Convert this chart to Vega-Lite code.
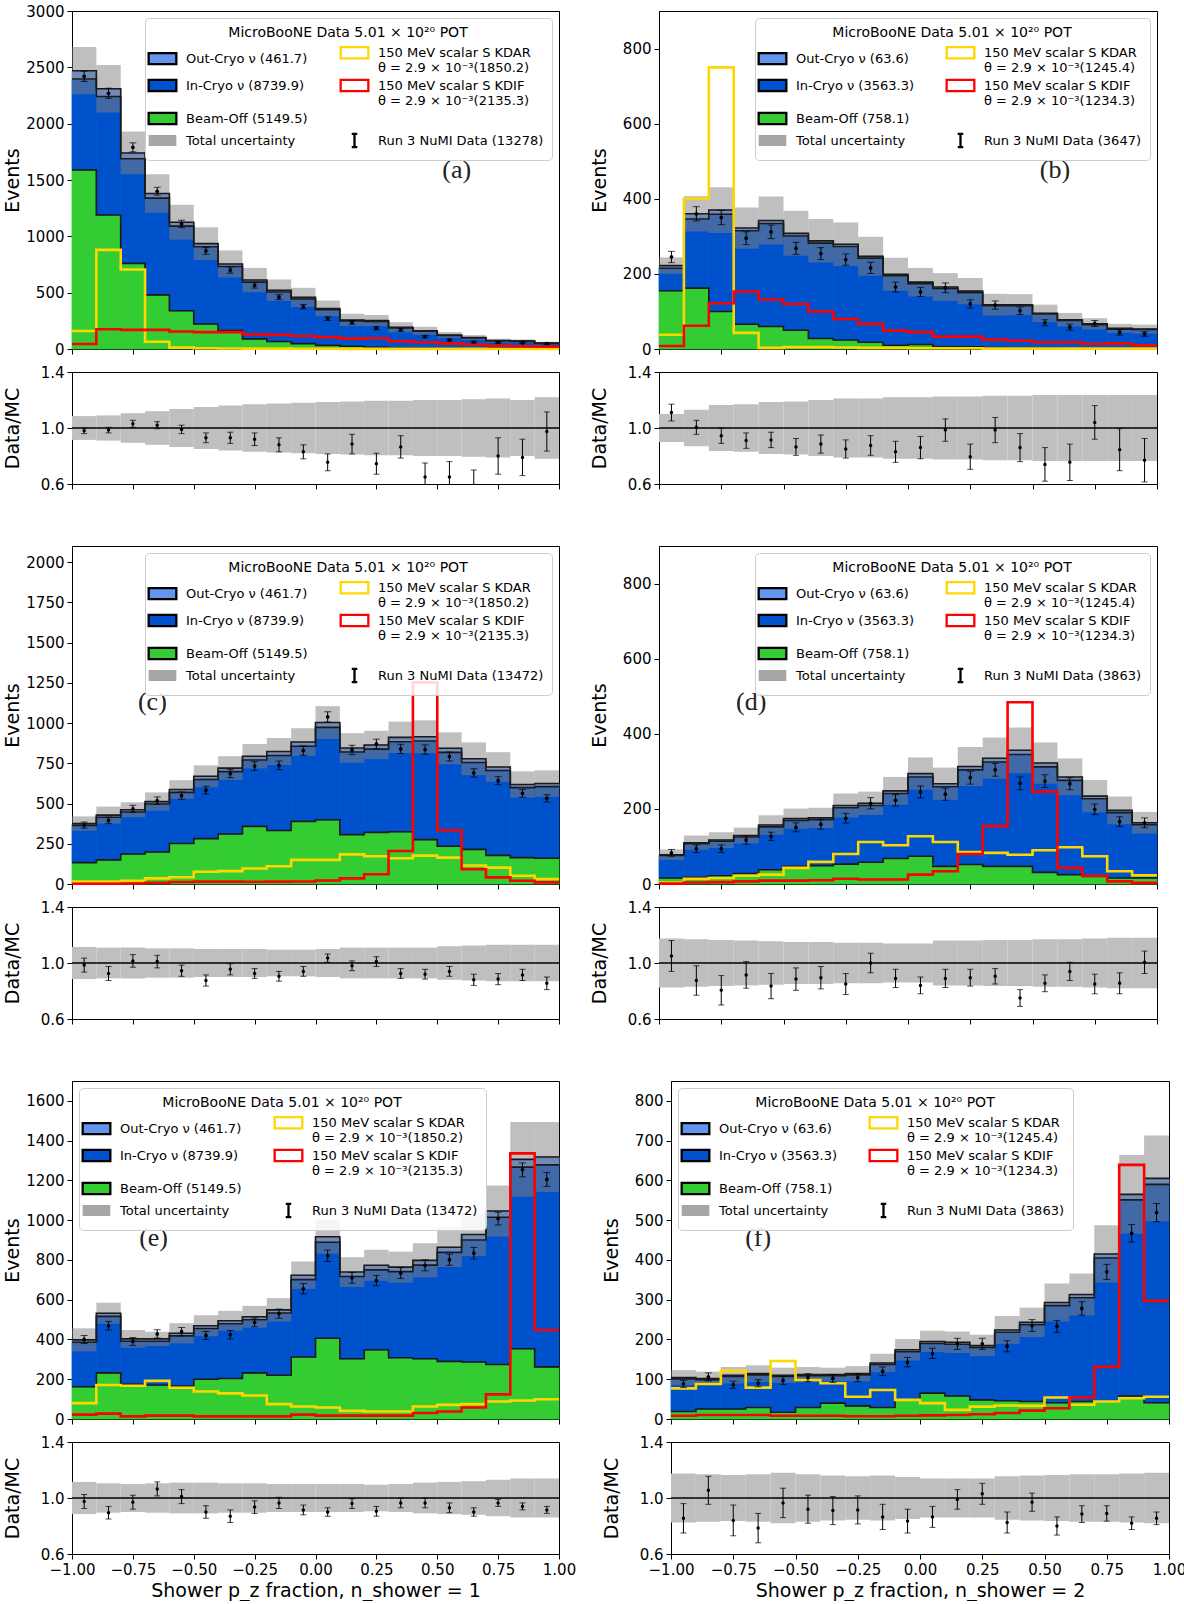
{
"$schema": "https://vega.github.io/schema/vega-lite/v6.json",
"background": "white",
"padding": {"left": 2, "top": 3, "right": 2, "bottom": 0},
"config": {
 "font": "DejaVu Sans",
 "view": {"stroke": "#000", "strokeWidth": 1},
 "axis": {"grid": false, "labelOverlap": false, "labelFlush": false, "domainColor": "#000", "tickColor": "#000", "labelColor": "#000", "titleColor": "#000", "labelFontSize": 15, "titleFontSize": 19, "titleFontWeight": "normal", "tickSize": 5, "labelPadding": 3, "labelFont": "DejaVu Sans", "titleFont": "DejaVu Sans"},
 "axisY": {"minExtent": 46, "maxExtent": 46, "titlePadding": 4, "labelOverlap": false},
 "axisX": {"titlePadding": 4},
 "legend": {"columns": 2, "columnPadding": 28, "rowPadding": 0, "symbolSize": 250, "symbolStrokeWidth": 2.3, "symbolOpacity": 1, "symbolFillColor": "#ffffff", "symbolStrokeColor": "#000000", "labelFontSize": 13, "labelOffset": 14, "labelLimit": 400, "titleFontSize": 14, "titleFontWeight": "normal", "titleAnchor": "middle", "titlePadding": 3, "titleLimit": 420, "fillColor": "rgba(255,255,255,0.85)", "strokeColor": "#cccccc", "cornerRadius": 4, "padding": 8, "offset": 7, "labelColor": "#000", "titleColor": "#000", "labelFont": "DejaVu Sans", "titleFont": "DejaVu Sans"}
},
"datasets": {
"a": [
{"x0":-1,"x1":-0.9,"xc":-0.95,"beamoff":1590,"incryo":806,"outcryo":74,"unclo":2260,"unchi":2680,"kdar":160,"kdif":45,"data":2420,"err":45,"ratio":0.98,"rerr":0.02,"bandlo":0.915,"bandhi":1.085},
{"x0":-0.9,"x1":-0.8,"xc":-0.85,"beamoff":1190,"incryo":1051,"outcryo":69,"unclo":2100,"unchi":2520,"kdar":880,"kdif":175,"data":2270,"err":45,"ratio":0.985,"rerr":0.02,"bandlo":0.91,"bandhi":1.09},
{"x0":-0.8,"x1":-0.7,"xc":-0.75,"beamoff":760,"incryo":928,"outcryo":52,"unclo":1550,"unchi":1930,"kdar":705,"kdif":170,"data":1790,"err":40,"ratio":1.03,"rerr":0.025,"bandlo":0.895,"bandhi":1.105},
{"x0":-0.7,"x1":-0.6,"xc":-0.65,"beamoff":480,"incryo":859,"outcryo":41,"unclo":1210,"unchi":1550,"kdar":65,"kdif":170,"data":1400,"err":35,"ratio":1.02,"rerr":0.025,"bandlo":0.88,"bandhi":1.12},
{"x0":-0.6,"x1":-0.5,"xc":-0.55,"beamoff":340,"incryo":751,"outcryo":34,"unclo":970,"unchi":1280,"kdar":12,"kdif":155,"data":1110,"err":33,"ratio":0.99,"rerr":0.03,"bandlo":0.865,"bandhi":1.135},
{"x0":-0.5,"x1":-0.4,"xc":-0.45,"beamoff":222,"incryo":685,"outcryo":28,"unclo":790,"unchi":1080,"kdar":6,"kdif":150,"data":870,"err":30,"ratio":0.93,"rerr":0.035,"bandlo":0.85,"bandhi":1.15},
{"x0":-0.4,"x1":-0.3,"xc":-0.35,"beamoff":163,"incryo":569,"outcryo":23,"unclo":635,"unchi":875,"kdar":4,"kdif":150,"data":700,"err":27,"ratio":0.93,"rerr":0.04,"bandlo":0.84,"bandhi":1.16},
{"x0":-0.3,"x1":-0.2,"xc":-0.25,"beamoff":90,"incryo":504,"outcryo":18,"unclo":504,"unchi":720,"kdar":3,"kdif":130,"data":565,"err":24,"ratio":0.92,"rerr":0.045,"bandlo":0.83,"bandhi":1.17},
{"x0":-0.2,"x1":-0.1,"xc":-0.15,"beamoff":66,"incryo":440,"outcryo":16,"unclo":427,"unchi":617,"kdar":3,"kdif":125,"data":460,"err":22,"ratio":0.88,"rerr":0.05,"bandlo":0.825,"bandhi":1.175},
{"x0":-0.1,"x1":0,"xc":-0.05,"beamoff":48,"incryo":396,"outcryo":14,"unclo":373,"unchi":543,"kdar":2,"kdif":115,"data":375,"err":20,"ratio":0.83,"rerr":0.05,"bandlo":0.82,"bandhi":1.18},
{"x0":0,"x1":0.1,"xc":0.05,"beamoff":32,"incryo":317,"outcryo":11,"unclo":290,"unchi":430,"kdar":2,"kdif":105,"data":270,"err":17,"ratio":0.755,"rerr":0.06,"bandlo":0.815,"bandhi":1.185},
{"x0":0.1,"x1":0.2,"xc":0.15,"beamoff":25,"incryo":225,"outcryo":8,"unclo":203,"unchi":313,"kdar":1,"kdif":92,"data":235,"err":16,"ratio":0.885,"rerr":0.07,"bandlo":0.81,"bandhi":1.19},
{"x0":0.2,"x1":0.3,"xc":0.25,"beamoff":15,"incryo":229,"outcryo":8,"unclo":202,"unchi":302,"kdar":1,"kdif":95,"data":185,"err":14,"ratio":0.745,"rerr":0.075,"bandlo":0.805,"bandhi":1.195},
{"x0":0.3,"x1":0.4,"xc":0.35,"beamoff":11,"incryo":176,"outcryo":6,"unclo":148,"unchi":238,"kdar":1,"kdif":70,"data":170,"err":13,"ratio":0.865,"rerr":0.08,"bandlo":0.805,"bandhi":1.195},
{"x0":0.4,"x1":0.5,"xc":0.45,"beamoff":9,"incryo":148,"outcryo":5,"unclo":127,"unchi":197,"kdar":1,"kdif":60,"data":110,"err":11,"ratio":0.65,"rerr":0.1,"bandlo":0.8,"bandhi":1.2},
{"x0":0.5,"x1":0.6,"xc":0.55,"beamoff":7,"incryo":113,"outcryo":4,"unclo":97,"unchi":151,"kdar":1,"kdif":50,"data":80,"err":9,"ratio":0.65,"rerr":0.11,"bandlo":0.8,"bandhi":1.2},
{"x0":0.6,"x1":0.7,"xc":0.65,"beamoff":5,"incryo":94,"outcryo":3,"unclo":80,"unchi":124,"kdar":1,"kdif":40,"data":62,"err":8,"ratio":0.59,"rerr":0.11,"bandlo":0.795,"bandhi":1.205},
{"x0":0.7,"x1":0.8,"xc":0.75,"beamoff":4,"incryo":69,"outcryo":2,"unclo":59,"unchi":91,"kdar":0,"kdif":30,"data":58,"err":8,"ratio":0.8,"rerr":0.13,"bandlo":0.79,"bandhi":1.21},
{"x0":0.8,"x1":0.9,"xc":0.85,"beamoff":3,"incryo":65,"outcryo":2,"unclo":55,"unchi":85,"kdar":0,"kdif":25,"data":55,"err":7,"ratio":0.79,"rerr":0.13,"bandlo":0.8,"bandhi":1.2},
{"x0":0.9,"x1":1,"xc":0.95,"beamoff":2,"incryo":48,"outcryo":2,"unclo":40,"unchi":64,"kdar":0,"kdif":20,"data":47,"err":7,"ratio":0.975,"rerr":0.14,"bandlo":0.78,"bandhi":1.22}
],
"b": [
{"x0":-1,"x1":-0.9,"xc":-0.95,"beamoff":155,"incryo":60,"outcryo":7,"unclo":200,"unchi":244,"kdar":38,"kdif":8,"data":245,"err":15,"ratio":1.11,"rerr":0.06,"bandlo":0.9,"bandhi":1.1},
{"x0":-0.9,"x1":-0.8,"xc":-0.85,"beamoff":162,"incryo":184,"outcryo":14,"unclo":313,"unchi":407,"kdar":400,"kdif":62,"data":360,"err":19,"ratio":1.005,"rerr":0.05,"bandlo":0.87,"bandhi":1.13},
{"x0":-0.8,"x1":-0.7,"xc":-0.75,"beamoff":100,"incryo":259,"outcryo":11,"unclo":309,"unchi":431,"kdar":750,"kdif":122,"data":350,"err":19,"ratio":0.945,"rerr":0.055,"bandlo":0.835,"bandhi":1.165},
{"x0":-0.7,"x1":-0.6,"xc":-0.65,"beamoff":66,"incryo":249,"outcryo":7,"unclo":267,"unchi":377,"kdar":43,"kdif":153,"data":295,"err":17,"ratio":0.91,"rerr":0.055,"bandlo":0.83,"bandhi":1.17},
{"x0":-0.6,"x1":-0.5,"xc":-0.55,"beamoff":60,"incryo":274,"outcryo":8,"unclo":278,"unchi":406,"kdar":3,"kdif":132,"data":312,"err":18,"ratio":0.915,"rerr":0.055,"bandlo":0.815,"bandhi":1.185},
{"x0":-0.5,"x1":-0.4,"xc":-0.45,"beamoff":50,"incryo":251,"outcryo":7,"unclo":248,"unchi":368,"kdar":5,"kdif":120,"data":268,"err":16,"ratio":0.865,"rerr":0.06,"bandlo":0.81,"bandhi":1.19},
{"x0":-0.4,"x1":-0.3,"xc":-0.35,"beamoff":28,"incryo":254,"outcryo":6,"unclo":230,"unchi":346,"kdar":5,"kdif":100,"data":254,"err":16,"ratio":0.885,"rerr":0.065,"bandlo":0.8,"bandhi":1.2},
{"x0":-0.3,"x1":-0.2,"xc":-0.25,"beamoff":24,"incryo":249,"outcryo":6,"unclo":221,"unchi":337,"kdar":4,"kdif":80,"data":238,"err":15,"ratio":0.85,"rerr":0.065,"bandlo":0.79,"bandhi":1.21},
{"x0":-0.2,"x1":-0.1,"xc":-0.15,"beamoff":18,"incryo":224,"outcryo":5,"unclo":195,"unchi":299,"kdar":3,"kdif":67,"data":216,"err":15,"ratio":0.875,"rerr":0.07,"bandlo":0.79,"bandhi":1.21},
{"x0":-0.1,"x1":0,"xc":-0.05,"beamoff":10,"incryo":185,"outcryo":4,"unclo":155,"unchi":243,"kdar":3,"kdif":49,"data":165,"err":13,"ratio":0.83,"rerr":0.075,"bandlo":0.78,"bandhi":1.22},
{"x0":0,"x1":0.1,"xc":0.05,"beamoff":12,"incryo":162,"outcryo":4,"unclo":140,"unchi":216,"kdar":2,"kdif":45,"data":152,"err":12,"ratio":0.86,"rerr":0.08,"bandlo":0.78,"bandhi":1.22},
{"x0":0.1,"x1":0.2,"xc":0.15,"beamoff":6,"incryo":155,"outcryo":4,"unclo":128,"unchi":202,"kdar":2,"kdif":33,"data":163,"err":13,"ratio":0.985,"rerr":0.08,"bandlo":0.775,"bandhi":1.225},
{"x0":0.2,"x1":0.3,"xc":0.25,"beamoff":6,"incryo":144,"outcryo":4,"unclo":119,"unchi":189,"kdar":2,"kdif":33,"data":120,"err":11,"ratio":0.795,"rerr":0.09,"bandlo":0.775,"bandhi":1.225},
{"x0":0.3,"x1":0.4,"xc":0.35,"beamoff":4,"incryo":111,"outcryo":3,"unclo":89,"unchi":147,"kdar":1,"kdif":25,"data":117,"err":11,"ratio":0.985,"rerr":0.09,"bandlo":0.77,"bandhi":1.23},
{"x0":0.4,"x1":0.5,"xc":0.45,"beamoff":3,"incryo":112,"outcryo":3,"unclo":90,"unchi":146,"kdar":1,"kdif":22,"data":102,"err":10,"ratio":0.86,"rerr":0.1,"bandlo":0.77,"bandhi":1.23},
{"x0":0.5,"x1":0.6,"xc":0.55,"beamoff":3,"incryo":90,"outcryo":2,"unclo":72,"unchi":118,"kdar":1,"kdif":18,"data":70,"err":8,"ratio":0.74,"rerr":0.12,"bandlo":0.765,"bandhi":1.235},
{"x0":0.6,"x1":0.7,"xc":0.65,"beamoff":2,"incryo":74,"outcryo":2,"unclo":60,"unchi":96,"kdar":1,"kdif":18,"data":58,"err":8,"ratio":0.755,"rerr":0.13,"bandlo":0.765,"bandhi":1.235},
{"x0":0.7,"x1":0.8,"xc":0.75,"beamoff":2,"incryo":63,"outcryo":2,"unclo":52,"unchi":82,"kdar":1,"kdif":14,"data":68,"err":8,"ratio":1.04,"rerr":0.12,"bandlo":0.765,"bandhi":1.235},
{"x0":0.8,"x1":0.9,"xc":0.85,"beamoff":2,"incryo":51,"outcryo":2,"unclo":43,"unchi":67,"kdar":1,"kdif":15,"data":44,"err":7,"ratio":0.845,"rerr":0.15,"bandlo":0.765,"bandhi":1.235},
{"x0":0.9,"x1":1,"xc":0.95,"beamoff":1,"incryo":51,"outcryo":1,"unclo":41,"unchi":65,"kdar":1,"kdif":10,"data":40,"err":6,"ratio":0.77,"rerr":0.155,"bandlo":0.765,"bandhi":1.235}
],
"c": [
{"x0":-1,"x1":-0.9,"xc":-0.95,"beamoff":133,"incryo":231,"outcryo":11,"unclo":330,"unchi":420,"kdar":16,"kdif":2,"data":366,"err":19,"ratio":0.985,"rerr":0.05,"bandlo":0.885,"bandhi":1.115},
{"x0":-0.9,"x1":-0.8,"xc":-0.85,"beamoff":150,"incryo":265,"outcryo":13,"unclo":375,"unchi":481,"kdar":16,"kdif":2,"data":395,"err":20,"ratio":0.925,"rerr":0.05,"bandlo":0.89,"bandhi":1.11},
{"x0":-0.8,"x1":-0.7,"xc":-0.75,"beamoff":186,"incryo":261,"outcryo":14,"unclo":414,"unchi":508,"kdar":20,"kdif":3,"data":467,"err":22,"ratio":1.015,"rerr":0.045,"bandlo":0.89,"bandhi":1.11},
{"x0":-0.7,"x1":-0.6,"xc":-0.65,"beamoff":199,"incryo":298,"outcryo":15,"unclo":455,"unchi":569,"kdar":35,"kdif":8,"data":518,"err":23,"ratio":1.01,"rerr":0.045,"bandlo":0.895,"bandhi":1.105},
{"x0":-0.6,"x1":-0.5,"xc":-0.55,"beamoff":252,"incryo":317,"outcryo":18,"unclo":529,"unchi":645,"kdar":42,"kdif":12,"data":549,"err":23,"ratio":0.945,"rerr":0.04,"bandlo":0.895,"bandhi":1.105},
{"x0":-0.5,"x1":-0.4,"xc":-0.45,"beamoff":282,"incryo":367,"outcryo":20,"unclo":601,"unchi":737,"kdar":76,"kdif":15,"data":583,"err":24,"ratio":0.875,"rerr":0.04,"bandlo":0.9,"bandhi":1.1},
{"x0":-0.4,"x1":-0.3,"xc":-0.35,"beamoff":311,"incryo":387,"outcryo":22,"unclo":646,"unchi":794,"kdar":80,"kdif":15,"data":686,"err":26,"ratio":0.955,"rerr":0.04,"bandlo":0.9,"bandhi":1.1},
{"x0":-0.3,"x1":-0.2,"xc":-0.25,"beamoff":358,"incryo":412,"outcryo":24,"unclo":718,"unchi":870,"kdar":96,"kdif":14,"data":733,"err":27,"ratio":0.925,"rerr":0.035,"bandlo":0.9,"bandhi":1.1},
{"x0":-0.2,"x1":-0.1,"xc":-0.15,"beamoff":332,"incryo":466,"outcryo":25,"unclo":739,"unchi":907,"kdar":110,"kdif":15,"data":737,"err":27,"ratio":0.905,"rerr":0.035,"bandlo":0.905,"bandhi":1.095},
{"x0":-0.1,"x1":0,"xc":-0.05,"beamoff":389,"incryo":467,"outcryo":26,"unclo":796,"unchi":968,"kdar":150,"kdif":16,"data":829,"err":29,"ratio":0.94,"rerr":0.035,"bandlo":0.905,"bandhi":1.095},
{"x0":0,"x1":0.1,"xc":0.05,"beamoff":399,"incryo":574,"outcryo":30,"unclo":901,"unchi":1105,"kdar":150,"kdif":22,"data":1038,"err":32,"ratio":1.035,"rerr":0.03,"bandlo":0.9,"bandhi":1.1},
{"x0":0.1,"x1":0.2,"xc":0.15,"beamoff":307,"incryo":513,"outcryo":25,"unclo":753,"unchi":937,"kdar":184,"kdif":35,"data":833,"err":29,"ratio":0.98,"rerr":0.035,"bandlo":0.89,"bandhi":1.11},
{"x0":0.2,"x1":0.3,"xc":0.25,"beamoff":321,"incryo":517,"outcryo":26,"unclo":776,"unchi":952,"kdar":172,"kdif":61,"data":870,"err":30,"ratio":1.01,"rerr":0.035,"bandlo":0.89,"bandhi":1.11},
{"x0":0.3,"x1":0.4,"xc":0.35,"beamoff":325,"incryo":559,"outcryo":27,"unclo":813,"unchi":1009,"kdar":160,"kdif":205,"data":839,"err":29,"ratio":0.925,"rerr":0.035,"bandlo":0.89,"bandhi":1.11},
{"x0":0.4,"x1":0.5,"xc":0.45,"beamoff":276,"incryo":612,"outcryo":27,"unclo":813,"unchi":1017,"kdar":176,"kdif":1253,"data":835,"err":29,"ratio":0.92,"rerr":0.035,"bandlo":0.89,"bandhi":1.11},
{"x0":0.5,"x1":0.6,"xc":0.55,"beamoff":235,"incryo":583,"outcryo":25,"unclo":744,"unchi":942,"kdar":164,"kdif":334,"data":792,"err":28,"ratio":0.94,"rerr":0.035,"bandlo":0.88,"bandhi":1.12},
{"x0":0.6,"x1":0.7,"xc":0.65,"beamoff":215,"incryo":540,"outcryo":23,"unclo":676,"unchi":880,"kdar":115,"kdif":92,"data":690,"err":26,"ratio":0.88,"rerr":0.04,"bandlo":0.875,"bandhi":1.125},
{"x0":0.7,"x1":0.8,"xc":0.75,"beamoff":178,"incryo":527,"outcryo":22,"unclo":635,"unchi":819,"kdar":102,"kdif":41,"data":642,"err":25,"ratio":0.885,"rerr":0.04,"bandlo":0.87,"bandhi":1.13},
{"x0":0.8,"x1":0.9,"xc":0.85,"beamoff":164,"incryo":435,"outcryo":19,"unclo":536,"unchi":700,"kdar":51,"kdif":20,"data":563,"err":24,"ratio":0.915,"rerr":0.04,"bandlo":0.87,"bandhi":1.13},
{"x0":0.9,"x1":1,"xc":0.95,"beamoff":160,"incryo":445,"outcryo":19,"unclo":542,"unchi":706,"kdar":31,"kdif":10,"data":532,"err":23,"ratio":0.855,"rerr":0.045,"bandlo":0.87,"bandhi":1.13}
],
"d": [
{"x0":-1,"x1":-0.9,"xc":-0.95,"beamoff":16,"incryo":60,"outcryo":2,"unclo":64,"unchi":92,"kdar":4,"kdif":1,"data":83,"err":9,"ratio":1.05,"rerr":0.11,"bandlo":0.825,"bandhi":1.175},
{"x0":-0.9,"x1":-0.8,"xc":-0.85,"beamoff":18,"incryo":89,"outcryo":3,"unclo":91,"unchi":129,"kdar":14,"kdif":4,"data":94,"err":10,"ratio":0.875,"rerr":0.105,"bandlo":0.83,"bandhi":1.17},
{"x0":-0.8,"x1":-0.7,"xc":-0.75,"beamoff":22,"incryo":92,"outcryo":3,"unclo":96,"unchi":138,"kdar":16,"kdif":5,"data":94,"err":10,"ratio":0.805,"rerr":0.105,"bandlo":0.835,"bandhi":1.165},
{"x0":-0.7,"x1":-0.6,"xc":-0.65,"beamoff":28,"incryo":97,"outcryo":4,"unclo":108,"unchi":150,"kdar":22,"kdif":7,"data":117,"err":11,"ratio":0.915,"rerr":0.095,"bandlo":0.84,"bandhi":1.16},
{"x0":-0.6,"x1":-0.5,"xc":-0.55,"beamoff":38,"incryo":114,"outcryo":5,"unclo":131,"unchi":183,"kdar":25,"kdif":9,"data":127,"err":11,"ratio":0.835,"rerr":0.09,"bandlo":0.845,"bandhi":1.155},
{"x0":-0.5,"x1":-0.4,"xc":-0.45,"beamoff":47,"incryo":122,"outcryo":5,"unclo":147,"unchi":201,"kdar":43,"kdif":9,"data":151,"err":12,"ratio":0.885,"rerr":0.08,"bandlo":0.85,"bandhi":1.15},
{"x0":-0.4,"x1":-0.3,"xc":-0.35,"beamoff":49,"incryo":122,"outcryo":5,"unclo":149,"unchi":203,"kdar":59,"kdif":10,"data":159,"err":13,"ratio":0.895,"rerr":0.08,"bandlo":0.85,"bandhi":1.15},
{"x0":-0.3,"x1":-0.2,"xc":-0.25,"beamoff":53,"incryo":150,"outcryo":6,"unclo":177,"unchi":241,"kdar":80,"kdif":14,"data":175,"err":13,"ratio":0.85,"rerr":0.075,"bandlo":0.855,"bandhi":1.145},
{"x0":-0.2,"x1":-0.1,"xc":-0.15,"beamoff":58,"incryo":151,"outcryo":6,"unclo":184,"unchi":246,"kdar":112,"kdif":12,"data":215,"err":15,"ratio":1.0,"rerr":0.07,"bandlo":0.855,"bandhi":1.145},
{"x0":-0.1,"x1":0,"xc":-0.05,"beamoff":68,"incryo":173,"outcryo":7,"unclo":211,"unchi":285,"kdar":103,"kdif":12,"data":223,"err":15,"ratio":0.89,"rerr":0.065,"bandlo":0.86,"bandhi":1.14},
{"x0":0,"x1":0.1,"xc":0.05,"beamoff":74,"incryo":211,"outcryo":9,"unclo":251,"unchi":337,"kdar":127,"kdif":25,"data":245,"err":16,"ratio":0.84,"rerr":0.06,"bandlo":0.86,"bandhi":1.14},
{"x0":0.1,"x1":0.2,"xc":0.15,"beamoff":47,"incryo":212,"outcryo":8,"unclo":224,"unchi":310,"kdar":112,"kdif":34,"data":239,"err":16,"ratio":0.89,"rerr":0.065,"bandlo":0.84,"bandhi":1.16},
{"x0":0.2,"x1":0.3,"xc":0.25,"beamoff":52,"incryo":252,"outcryo":9,"unclo":261,"unchi":365,"kdar":85,"kdif":80,"data":283,"err":17,"ratio":0.895,"rerr":0.06,"bandlo":0.84,"bandhi":1.16},
{"x0":0.3,"x1":0.4,"xc":0.35,"beamoff":47,"incryo":278,"outcryo":10,"unclo":280,"unchi":390,"kdar":83,"kdif":154,"data":304,"err":17,"ratio":0.905,"rerr":0.055,"bandlo":0.835,"bandhi":1.165},
{"x0":0.4,"x1":0.5,"xc":0.45,"beamoff":47,"incryo":298,"outcryo":11,"unclo":295,"unchi":417,"kdar":78,"kdif":484,"data":268,"err":17,"ratio":0.75,"rerr":0.06,"bandlo":0.835,"bandhi":1.165},
{"x0":0.5,"x1":0.6,"xc":0.55,"beamoff":31,"incryo":281,"outcryo":10,"unclo":267,"unchi":377,"kdar":90,"kdif":246,"data":274,"err":17,"ratio":0.855,"rerr":0.06,"bandlo":0.83,"bandhi":1.17},
{"x0":0.6,"x1":0.7,"xc":0.65,"beamoff":25,"incryo":251,"outcryo":9,"unclo":236,"unchi":334,"kdar":98,"kdif":43,"data":267,"err":16,"ratio":0.94,"rerr":0.065,"bandlo":0.83,"bandhi":1.17},
{"x0":0.7,"x1":0.8,"xc":0.75,"beamoff":20,"incryo":207,"outcryo":7,"unclo":191,"unchi":277,"kdar":74,"kdif":22,"data":199,"err":14,"ratio":0.85,"rerr":0.07,"bandlo":0.825,"bandhi":1.175},
{"x0":0.8,"x1":0.9,"xc":0.85,"beamoff":16,"incryo":174,"outcryo":6,"unclo":159,"unchi":233,"kdar":34,"kdif":7,"data":166,"err":13,"ratio":0.855,"rerr":0.075,"bandlo":0.82,"bandhi":1.18},
{"x0":0.9,"x1":1,"xc":0.95,"beamoff":16,"incryo":142,"outcryo":5,"unclo":134,"unchi":192,"kdar":23,"kdif":3,"data":163,"err":13,"ratio":1.005,"rerr":0.08,"bandlo":0.82,"bandhi":1.18}
],
"e": [
{"x0":-1,"x1":-0.9,"xc":-0.95,"beamoff":162,"incryo":224,"outcryo":12,"unclo":340,"unchi":456,"kdar":80,"kdif":22,"data":400,"err":20,"ratio":0.975,"rerr":0.05,"bandlo":0.885,"bandhi":1.115},
{"x0":-0.9,"x1":-0.8,"xc":-0.85,"beamoff":232,"incryo":284,"outcryo":16,"unclo":479,"unchi":585,"kdar":171,"kdif":27,"data":469,"err":22,"ratio":0.895,"rerr":0.045,"bandlo":0.895,"bandhi":1.105},
{"x0":-0.8,"x1":-0.7,"xc":-0.75,"beamoff":174,"incryo":217,"outcryo":12,"unclo":358,"unchi":448,"kdar":167,"kdif":13,"data":390,"err":20,"ratio":0.97,"rerr":0.05,"bandlo":0.9,"bandhi":1.1},
{"x0":-0.7,"x1":-0.6,"xc":-0.65,"beamoff":171,"incryo":220,"outcryo":12,"unclo":367,"unchi":439,"kdar":192,"kdif":17,"data":428,"err":21,"ratio":1.065,"rerr":0.05,"bandlo":0.895,"bandhi":1.105},
{"x0":-0.6,"x1":-0.5,"xc":-0.55,"beamoff":166,"incryo":252,"outcryo":13,"unclo":380,"unchi":482,"kdar":157,"kdif":17,"data":439,"err":21,"ratio":1.01,"rerr":0.05,"bandlo":0.89,"bandhi":1.11},
{"x0":-0.5,"x1":-0.4,"xc":-0.45,"beamoff":200,"incryo":255,"outcryo":14,"unclo":416,"unchi":522,"kdar":138,"kdif":13,"data":420,"err":20,"ratio":0.9,"rerr":0.045,"bandlo":0.89,"bandhi":1.11},
{"x0":-0.4,"x1":-0.3,"xc":-0.35,"beamoff":204,"incryo":275,"outcryo":15,"unclo":444,"unchi":544,"kdar":129,"kdif":13,"data":424,"err":21,"ratio":0.87,"rerr":0.045,"bandlo":0.895,"bandhi":1.105},
{"x0":-0.3,"x1":-0.2,"xc":-0.25,"beamoff":232,"incryo":267,"outcryo":15,"unclo":459,"unchi":569,"kdar":118,"kdif":13,"data":486,"err":22,"ratio":0.935,"rerr":0.045,"bandlo":0.895,"bandhi":1.105},
{"x0":-0.2,"x1":-0.1,"xc":-0.15,"beamoff":220,"incryo":313,"outcryo":16,"unclo":490,"unchi":608,"kdar":75,"kdif":13,"data":530,"err":23,"ratio":0.965,"rerr":0.04,"bandlo":0.9,"bandhi":1.1},
{"x0":-0.1,"x1":0,"xc":-0.05,"beamoff":312,"incryo":389,"outcryo":22,"unclo":654,"unchi":792,"kdar":63,"kdif":22,"data":655,"err":26,"ratio":0.915,"rerr":0.035,"bandlo":0.9,"bandhi":1.1},
{"x0":0,"x1":0.1,"xc":0.05,"beamoff":406,"incryo":483,"outcryo":28,"unclo":831,"unchi":1003,"kdar":58,"kdif":17,"data":821,"err":29,"ratio":0.9,"rerr":0.03,"bandlo":0.9,"bandhi":1.1},
{"x0":0.1,"x1":0.2,"xc":0.15,"beamoff":303,"incryo":414,"outcryo":22,"unclo":664,"unchi":814,"kdar":41,"kdif":17,"data":710,"err":27,"ratio":0.96,"rerr":0.035,"bandlo":0.9,"bandhi":1.1},
{"x0":0.2,"x1":0.3,"xc":0.25,"beamoff":348,"incryo":402,"outcryo":23,"unclo":695,"unchi":851,"kdar":38,"kdif":17,"data":696,"err":26,"ratio":0.905,"rerr":0.035,"bandlo":0.905,"bandhi":1.095},
{"x0":0.3,"x1":0.4,"xc":0.35,"beamoff":308,"incryo":433,"outcryo":23,"unclo":686,"unchi":842,"kdar":38,"kdif":17,"data":734,"err":27,"ratio":0.965,"rerr":0.035,"bandlo":0.9,"bandhi":1.1},
{"x0":0.4,"x1":0.5,"xc":0.45,"beamoff":303,"incryo":471,"outcryo":24,"unclo":712,"unchi":884,"kdar":63,"kdif":30,"data":773,"err":28,"ratio":0.965,"rerr":0.035,"bandlo":0.89,"bandhi":1.11},
{"x0":0.5,"x1":0.6,"xc":0.55,"beamoff":290,"incryo":548,"outcryo":26,"unclo":765,"unchi":963,"kdar":71,"kdif":38,"data":801,"err":28,"ratio":0.93,"rerr":0.035,"bandlo":0.885,"bandhi":1.115},
{"x0":0.6,"x1":0.7,"xc":0.65,"beamoff":287,"incryo":613,"outcryo":28,"unclo":820,"unchi":1036,"kdar":75,"kdif":58,"data":834,"err":29,"ratio":0.9,"rerr":0.03,"bandlo":0.88,"bandhi":1.12},
{"x0":0.7,"x1":0.8,"xc":0.75,"beamoff":274,"incryo":741,"outcryo":31,"unclo":918,"unchi":1174,"kdar":88,"kdif":124,"data":1008,"err":32,"ratio":0.965,"rerr":0.025,"bandlo":0.87,"bandhi":1.13},
{"x0":0.8,"x1":0.9,"xc":0.85,"beamoff":353,"incryo":914,"outcryo":39,"unclo":1118,"unchi":1494,"kdar":93,"kdif":1336,"data":1253,"err":35,"ratio":0.94,"rerr":0.025,"bandlo":0.86,"bandhi":1.14},
{"x0":0.9,"x1":1,"xc":0.95,"beamoff":262,"incryo":1016,"outcryo":40,"unclo":1142,"unchi":1494,"kdar":99,"kdif":448,"data":1205,"err":35,"ratio":0.915,"rerr":0.025,"bandlo":0.86,"bandhi":1.14}
],
"f": [
{"x0":-1,"x1":-0.9,"xc":-0.95,"beamoff":19,"incryo":82,"outcryo":3,"unclo":85,"unchi":123,"kdar":77,"kdif":8,"data":88,"err":9,"ratio":0.855,"rerr":0.105,"bandlo":0.825,"bandhi":1.175},
{"x0":-0.9,"x1":-0.8,"xc":-0.85,"beamoff":25,"incryo":74,"outcryo":3,"unclo":85,"unchi":119,"kdar":88,"kdif":10,"data":106,"err":10,"ratio":1.055,"rerr":0.1,"bandlo":0.83,"bandhi":1.17},
{"x0":-0.8,"x1":-0.7,"xc":-0.75,"beamoff":25,"incryo":82,"outcryo":3,"unclo":89,"unchi":131,"kdar":121,"kdif":10,"data":86,"err":9,"ratio":0.84,"rerr":0.11,"bandlo":0.835,"bandhi":1.165},
{"x0":-0.7,"x1":-0.6,"xc":-0.65,"beamoff":29,"incryo":82,"outcryo":3,"unclo":93,"unchi":135,"kdar":79,"kdif":10,"data":90,"err":9,"ratio":0.785,"rerr":0.105,"bandlo":0.83,"bandhi":1.17},
{"x0":-0.6,"x1":-0.5,"xc":-0.55,"beamoff":17,"incryo":90,"outcryo":3,"unclo":91,"unchi":129,"kdar":146,"kdif":8,"data":97,"err":10,"ratio":0.965,"rerr":0.105,"bandlo":0.82,"bandhi":1.18},
{"x0":-0.5,"x1":-0.4,"xc":-0.45,"beamoff":29,"incryo":80,"outcryo":3,"unclo":93,"unchi":131,"kdar":98,"kdif":8,"data":104,"err":10,"ratio":0.92,"rerr":0.1,"bandlo":0.83,"bandhi":1.17},
{"x0":-0.4,"x1":-0.3,"xc":-0.35,"beamoff":40,"incryo":69,"outcryo":3,"unclo":95,"unchi":129,"kdar":90,"kdif":8,"data":102,"err":10,"ratio":0.91,"rerr":0.1,"bandlo":0.84,"bandhi":1.16},
{"x0":-0.3,"x1":-0.2,"xc":-0.25,"beamoff":33,"incryo":78,"outcryo":3,"unclo":95,"unchi":133,"kdar":56,"kdif":7,"data":104,"err":10,"ratio":0.915,"rerr":0.1,"bandlo":0.845,"bandhi":1.155},
{"x0":-0.2,"x1":-0.1,"xc":-0.15,"beamoff":29,"incryo":108,"outcryo":4,"unclo":118,"unchi":164,"kdar":73,"kdif":7,"data":120,"err":11,"ratio":0.865,"rerr":0.09,"bandlo":0.84,"bandhi":1.16},
{"x0":-0.1,"x1":0,"xc":-0.05,"beamoff":48,"incryo":121,"outcryo":5,"unclo":147,"unchi":201,"kdar":48,"kdif":8,"data":143,"err":12,"ratio":0.835,"rerr":0.085,"bandlo":0.85,"bandhi":1.15},
{"x0":0,"x1":0.1,"xc":0.05,"beamoff":65,"incryo":125,"outcryo":5,"unclo":168,"unchi":222,"kdar":40,"kdif":9,"data":165,"err":13,"ratio":0.865,"rerr":0.075,"bandlo":0.86,"bandhi":1.14},
{"x0":0.1,"x1":0.2,"xc":0.15,"beamoff":58,"incryo":130,"outcryo":5,"unclo":166,"unchi":220,"kdar":23,"kdif":10,"data":189,"err":14,"ratio":0.99,"rerr":0.07,"bandlo":0.86,"bandhi":1.14},
{"x0":0.2,"x1":0.3,"xc":0.25,"beamoff":48,"incryo":132,"outcryo":5,"unclo":158,"unchi":212,"kdar":31,"kdif":12,"data":189,"err":14,"ratio":1.03,"rerr":0.075,"bandlo":0.86,"bandhi":1.14},
{"x0":0.3,"x1":0.4,"xc":0.35,"beamoff":46,"incryo":172,"outcryo":6,"unclo":189,"unchi":259,"kdar":34,"kdif":15,"data":183,"err":14,"ratio":0.825,"rerr":0.075,"bandlo":0.845,"bandhi":1.155},
{"x0":0.4,"x1":0.5,"xc":0.45,"beamoff":44,"incryo":193,"outcryo":6,"unclo":206,"unchi":280,"kdar":33,"kdif":21,"data":235,"err":15,"ratio":0.97,"rerr":0.065,"bandlo":0.84,"bandhi":1.16},
{"x0":0.5,"x1":0.6,"xc":0.55,"beamoff":41,"incryo":244,"outcryo":8,"unclo":245,"unchi":341,"kdar":54,"kdif":27,"data":233,"err":15,"ratio":0.8,"rerr":0.065,"bandlo":0.835,"bandhi":1.165},
{"x0":0.6,"x1":0.7,"xc":0.65,"beamoff":44,"incryo":261,"outcryo":8,"unclo":260,"unchi":366,"kdar":36,"kdif":54,"data":278,"err":17,"ratio":0.885,"rerr":0.06,"bandlo":0.83,"bandhi":1.17},
{"x0":0.7,"x1":0.8,"xc":0.75,"beamoff":44,"incryo":361,"outcryo":10,"unclo":343,"unchi":487,"kdar":44,"kdif":131,"data":370,"err":19,"ratio":0.89,"rerr":0.055,"bandlo":0.83,"bandhi":1.17},
{"x0":0.8,"x1":0.9,"xc":0.85,"beamoff":58,"incryo":493,"outcryo":14,"unclo":466,"unchi":664,"kdar":52,"kdif":639,"data":467,"err":22,"ratio":0.82,"rerr":0.045,"bandlo":0.825,"bandhi":1.175},
{"x0":0.9,"x1":1,"xc":0.95,"beamoff":41,"incryo":549,"outcryo":15,"unclo":497,"unchi":713,"kdar":56,"kdif":297,"data":519,"err":23,"ratio":0.855,"rerr":0.045,"bandlo":0.82,"bandhi":1.18}
]
},
"spacing": 52,
"resolve": {"scale": {"color": "independent", "stroke": "independent", "shape": "independent"}, "legend": {"color": "independent", "stroke": "independent", "shape": "independent"}},
"vconcat": [
{"hconcat": [
 {"vconcat": [
  {"width": 487, "height": 338, "data": {"name": "a"}, "layer": [
   {"transform": [{"fold": ["beamoff","incryo","outcryo"], "as": ["comp","v"]}, {"stack": "v", "groupby": ["x0"], "sort": [{"field": "comp", "order": "ascending"}], "as": ["v0","v1"]}],
    "mark": {"type": "rect", "strokeWidth": 0.8},
    "encoding": {
     "x": {"field": "x0", "type": "quantitative", "scale": {"domain": [-1,1], "nice": false, "zero": false}, "axis": {"values": [-1,-0.75,-0.5,-0.25,0,0.25,0.5,0.75,1], "labels": false, "title": null}},
     "x2": {"field": "x1"},
     "y": {"field": "v1", "type": "quantitative", "title": "Events", "scale": {"domain": [0,3000], "nice": false}, "axis": {"values": [0,500,1000,1500,2000,2500,3000], "format": "d", "labelOverlap": false}},
     "y2": {"field": "v0"},
     "color": {"field": "comp", "type": "nominal", "scale": {"domain": ["outcryo","incryo","beamoff","unc","kdar","kdif","blank","data"], "range": ["#6495ed","#0052cc","#33cc33","#a6a6a6","#ffffff","#ffffff","rgba(0,0,0,0)","#000000"]}},
     "stroke": {"condition": [{"test": "datum.comp == 'beamoff'", "value": "#33cc33"}, {"test": "datum.comp == 'incryo'", "value": "#0052cc"}], "value": "#6495ed"}
    }},
   {"mark": {"type": "rect", "color": "#808080", "opacity": 0.5}, "encoding": {"x": {"field": "x0", "type": "quantitative"}, "x2": {"field": "x1"}, "y": {"field": "unclo", "type": "quantitative", "title": "Events"}, "y2": {"field": "unchi"}}},
   {"transform": [{"fold": ["beamoff","incryo","outcryo"], "as": ["comp","v"]}, {"stack": "v", "groupby": ["x0"], "sort": [{"field": "comp", "order": "ascending"}], "as": ["v0","v1"]}, {"fold": ["x0","x1"], "as": ["edge","xe"]}],
    "mark": {"type": "line", "color": "#1a1a1a", "strokeWidth": 1.6},
    "encoding": {"x": {"field": "xe", "type": "quantitative"}, "y": {"field": "v1", "type": "quantitative", "title": "Events"}, "detail": {"field": "comp"}, "order": [{"field": "xe", "type": "quantitative"}, {"field": "edge", "type": "ordinal", "sort": "descending"}]}},
   {"transform": [{"fold": ["x0","x1"], "as": ["edge","xe"]}], "mark": {"type": "line", "color": "#ffd700", "strokeWidth": 2.6},
    "encoding": {"x": {"field": "xe", "type": "quantitative"}, "y": {"field": "kdar", "type": "quantitative", "title": "Events"}, "order": [{"field": "xe", "type": "quantitative"}, {"field": "edge", "type": "ordinal", "sort": "descending"}]}},
   {"transform": [{"fold": ["x0","x1"], "as": ["edge","xe"]}], "mark": {"type": "line", "color": "#ff0000", "strokeWidth": 2.6},
    "encoding": {"x": {"field": "xe", "type": "quantitative"}, "y": {"field": "kdif", "type": "quantitative", "title": "Events"}, "order": [{"field": "xe", "type": "quantitative"}, {"field": "edge", "type": "ordinal", "sort": "descending"}]}},
   {"mark": {"type": "errorbar", "ticks": {"size": 7}, "color": "#000"}, "encoding": {"x": {"field": "xc", "type": "quantitative"}, "y": {"field": "data", "type": "quantitative", "title": "Events"}, "yError": {"field": "err"}}},
   {"mark": {"type": "circle", "size": 14, "color": "#000", "opacity": 1}, "encoding": {"x": {"field": "xc", "type": "quantitative"}, "y": {"field": "data", "type": "quantitative", "title": "Events"}}},
   {"data": {"values": [{}]}, "mark": {"type": "text", "font": "Liberation Serif", "fontSize": 26, "color": "#222"}, "encoding": {"x": {"datum": 0.58}, "y": {"datum": 1589}, "text": {"value": "(a)"}}},
   {"data": {"values": []}, "mark": {"type": "point", "filled": true, "opacity": 1},
    "encoding": {
     "color": {"field": "comp", "type": "nominal", "scale": {"domain": ["outcryo","incryo","beamoff","unc","kdar","kdif","blank","data"], "range": ["#6495ed","#0052cc","#33cc33","#a6a6a6","#ffffff","#ffffff","rgba(0,0,0,0)","#000000"]},
      "legend": {"title": "MicroBooNE Data 5.01 × 10²⁰ POT", "orient": "top-right", "labelExpr": "({'outcryo':'Out-Cryo ν (461.7)','incryo':'In-Cryo ν (8739.9)','beamoff':'Beam-Off (5149.5)','unc':'Total uncertainty','kdar':['150 MeV scalar S KDAR','θ = 2.9 × 10⁻³(1850.2)'],'kdif':['150 MeV scalar S KDIF','θ = 2.9 × 10⁻³(2135.3)'],'data':'Run 3 NuMI Data (13278)','blank':''})[datum.value]"}},
     "stroke": {"field": "comp", "type": "nominal", "scale": {"domain": ["outcryo","incryo","beamoff","unc","kdar","kdif","blank","data"], "range": ["#000000","#000000","#000000","rgba(0,0,0,0)","#ffd700","#ff0000","rgba(0,0,0,0)","#000000"]}, "legend": {"title": "MicroBooNE Data 5.01 × 10²⁰ POT", "orient": "top-right"}},
     "shape": {"field": "comp", "type": "nominal", "scale": {"domain": ["outcryo","incryo","beamoff","unc","kdar","kdif","blank","data"], "range": ["M-1.75,-0.7H1.75V0.7H-1.75Z","M-1.75,-0.7H1.75V0.7H-1.75Z","M-1.75,-0.7H1.75V0.7H-1.75Z","M-1.75,-0.7H1.75V0.7H-1.75Z","M-1.75,-0.7H1.75V0.7H-1.75Z","M-1.75,-0.7H1.75V0.7H-1.75Z","M-1.75,-0.7H1.75V0.7H-1.75Z","M0,-0.85V0.85M-0.35,-0.85H0.35M-0.35,0.85H0.35"]}, "legend": {"title": "MicroBooNE Data 5.01 × 10²⁰ POT", "orient": "top-right"}}
    }}
  ]},
  {"width": 487, "height": 112, "data": {"name": "a"}, "layer": [
   {"mark": {"type": "rect", "color": "#bfbfbf"}, "encoding": {"x": {"field": "x0", "type": "quantitative", "scale": {"domain": [-1,1], "nice": false, "zero": false}, "axis": {"values": [-1,-0.75,-0.5,-0.25,0,0.25,0.5,0.75,1], "labels": false, "title": null}}, "x2": {"field": "x1"}, "y": {"field": "bandlo", "type": "quantitative", "title": "Data/MC", "scale": {"domain": [0.6,1.4], "nice": false, "zero": false}, "axis": {"values": [0.6,0.8,1,1.2,1.4], "format": ".1f", "labelOverlap": false}}, "y2": {"field": "bandhi"}}},
   {"data": {"values": [{}]}, "mark": {"type": "rule", "color": "#000", "strokeWidth": 1.5}, "encoding": {"y": {"datum": 1, "title": "Data/MC"}}},
   {"mark": {"type": "errorbar", "ticks": {"size": 6}, "color": "#000", "clip": true}, "encoding": {"x": {"field": "xc", "type": "quantitative"}, "y": {"field": "ratio", "type": "quantitative", "title": "Data/MC"}, "yError": {"field": "rerr"}}},
   {"mark": {"type": "circle", "size": 12, "color": "#000", "opacity": 1, "clip": true}, "encoding": {"x": {"field": "xc", "type": "quantitative"}, "y": {"field": "ratio", "type": "quantitative", "title": "Data/MC"}}}
  ]}
 ], "spacing": 23, "bounds": "flush", "resolve": {"scale": {"color": "independent", "stroke": "independent", "shape": "independent"}, "legend": {"color": "independent", "stroke": "independent", "shape": "independent"}}},
 {"vconcat": [
  {"width": 498, "height": 338, "data": {"name": "b"}, "layer": [
   {"transform": [{"fold": ["beamoff","incryo","outcryo"], "as": ["comp","v"]}, {"stack": "v", "groupby": ["x0"], "sort": [{"field": "comp", "order": "ascending"}], "as": ["v0","v1"]}],
    "mark": {"type": "rect", "strokeWidth": 0.8},
    "encoding": {
     "x": {"field": "x0", "type": "quantitative", "scale": {"domain": [-1,1], "nice": false, "zero": false}, "axis": {"values": [-1,-0.75,-0.5,-0.25,0,0.25,0.5,0.75,1], "labels": false, "title": null}},
     "x2": {"field": "x1"},
     "y": {"field": "v1", "type": "quantitative", "title": "Events", "scale": {"domain": [0,900], "nice": false}, "axis": {"values": [0,100,200,300,400,500,600,700,800,900], "format": "d", "labelOverlap": false}},
     "y2": {"field": "v0"},
     "color": {"field": "comp", "type": "nominal", "scale": {"domain": ["outcryo","incryo","beamoff","unc","kdar","kdif","blank","data"], "range": ["#6495ed","#0052cc","#33cc33","#a6a6a6","#ffffff","#ffffff","rgba(0,0,0,0)","#000000"]}},
     "stroke": {"condition": [{"test": "datum.comp == 'beamoff'", "value": "#33cc33"}, {"test": "datum.comp == 'incryo'", "value": "#0052cc"}], "value": "#6495ed"}
    }},
   {"mark": {"type": "rect", "color": "#808080", "opacity": 0.5}, "encoding": {"x": {"field": "x0", "type": "quantitative"}, "x2": {"field": "x1"}, "y": {"field": "unclo", "type": "quantitative", "title": "Events"}, "y2": {"field": "unchi"}}},
   {"transform": [{"fold": ["beamoff","incryo","outcryo"], "as": ["comp","v"]}, {"stack": "v", "groupby": ["x0"], "sort": [{"field": "comp", "order": "ascending"}], "as": ["v0","v1"]}, {"fold": ["x0","x1"], "as": ["edge","xe"]}],
    "mark": {"type": "line", "color": "#1a1a1a", "strokeWidth": 1.6},
    "encoding": {"x": {"field": "xe", "type": "quantitative"}, "y": {"field": "v1", "type": "quantitative", "title": "Events"}, "detail": {"field": "comp"}, "order": [{"field": "xe", "type": "quantitative"}, {"field": "edge", "type": "ordinal", "sort": "descending"}]}},
   {"transform": [{"fold": ["x0","x1"], "as": ["edge","xe"]}], "mark": {"type": "line", "color": "#ffd700", "strokeWidth": 2.6},
    "encoding": {"x": {"field": "xe", "type": "quantitative"}, "y": {"field": "kdar", "type": "quantitative", "title": "Events"}, "order": [{"field": "xe", "type": "quantitative"}, {"field": "edge", "type": "ordinal", "sort": "descending"}]}},
   {"transform": [{"fold": ["x0","x1"], "as": ["edge","xe"]}], "mark": {"type": "line", "color": "#ff0000", "strokeWidth": 2.6},
    "encoding": {"x": {"field": "xe", "type": "quantitative"}, "y": {"field": "kdif", "type": "quantitative", "title": "Events"}, "order": [{"field": "xe", "type": "quantitative"}, {"field": "edge", "type": "ordinal", "sort": "descending"}]}},
   {"mark": {"type": "errorbar", "ticks": {"size": 7}, "color": "#000"}, "encoding": {"x": {"field": "xc", "type": "quantitative"}, "y": {"field": "data", "type": "quantitative", "title": "Events"}, "yError": {"field": "err"}}},
   {"mark": {"type": "circle", "size": 14, "color": "#000", "opacity": 1}, "encoding": {"x": {"field": "xc", "type": "quantitative"}, "y": {"field": "data", "type": "quantitative", "title": "Events"}}},
   {"data": {"values": [{}]}, "mark": {"type": "text", "font": "Liberation Serif", "fontSize": 26, "color": "#222"}, "encoding": {"x": {"datum": 0.59}, "y": {"datum": 477}, "text": {"value": "(b)"}}},
   {"data": {"values": []}, "mark": {"type": "point", "filled": true, "opacity": 1},
    "encoding": {
     "color": {"field": "comp", "type": "nominal", "scale": {"domain": ["outcryo","incryo","beamoff","unc","kdar","kdif","blank","data"], "range": ["#6495ed","#0052cc","#33cc33","#a6a6a6","#ffffff","#ffffff","rgba(0,0,0,0)","#000000"]},
      "legend": {"title": "MicroBooNE Data 5.01 × 10²⁰ POT", "orient": "top-right", "labelExpr": "({'outcryo':'Out-Cryo ν (63.6)','incryo':'In-Cryo ν (3563.3)','beamoff':'Beam-Off (758.1)','unc':'Total uncertainty','kdar':['150 MeV scalar S KDAR','θ = 2.9 × 10⁻³(1245.4)'],'kdif':['150 MeV scalar S KDIF','θ = 2.9 × 10⁻³(1234.3)'],'data':'Run 3 NuMI Data (3647)','blank':''})[datum.value]"}},
     "stroke": {"field": "comp", "type": "nominal", "scale": {"domain": ["outcryo","incryo","beamoff","unc","kdar","kdif","blank","data"], "range": ["#000000","#000000","#000000","rgba(0,0,0,0)","#ffd700","#ff0000","rgba(0,0,0,0)","#000000"]}, "legend": {"title": "MicroBooNE Data 5.01 × 10²⁰ POT", "orient": "top-right"}},
     "shape": {"field": "comp", "type": "nominal", "scale": {"domain": ["outcryo","incryo","beamoff","unc","kdar","kdif","blank","data"], "range": ["M-1.75,-0.7H1.75V0.7H-1.75Z","M-1.75,-0.7H1.75V0.7H-1.75Z","M-1.75,-0.7H1.75V0.7H-1.75Z","M-1.75,-0.7H1.75V0.7H-1.75Z","M-1.75,-0.7H1.75V0.7H-1.75Z","M-1.75,-0.7H1.75V0.7H-1.75Z","M-1.75,-0.7H1.75V0.7H-1.75Z","M0,-0.85V0.85M-0.35,-0.85H0.35M-0.35,0.85H0.35"]}, "legend": {"title": "MicroBooNE Data 5.01 × 10²⁰ POT", "orient": "top-right"}}
    }}
  ]},
  {"width": 498, "height": 112, "data": {"name": "b"}, "layer": [
   {"mark": {"type": "rect", "color": "#bfbfbf"}, "encoding": {"x": {"field": "x0", "type": "quantitative", "scale": {"domain": [-1,1], "nice": false, "zero": false}, "axis": {"values": [-1,-0.75,-0.5,-0.25,0,0.25,0.5,0.75,1], "labels": false, "title": null}}, "x2": {"field": "x1"}, "y": {"field": "bandlo", "type": "quantitative", "title": "Data/MC", "scale": {"domain": [0.6,1.4], "nice": false, "zero": false}, "axis": {"values": [0.6,0.8,1,1.2,1.4], "format": ".1f", "labelOverlap": false}}, "y2": {"field": "bandhi"}}},
   {"data": {"values": [{}]}, "mark": {"type": "rule", "color": "#000", "strokeWidth": 1.5}, "encoding": {"y": {"datum": 1, "title": "Data/MC"}}},
   {"mark": {"type": "errorbar", "ticks": {"size": 6}, "color": "#000", "clip": true}, "encoding": {"x": {"field": "xc", "type": "quantitative"}, "y": {"field": "ratio", "type": "quantitative", "title": "Data/MC"}, "yError": {"field": "rerr"}}},
   {"mark": {"type": "circle", "size": 12, "color": "#000", "opacity": 1, "clip": true}, "encoding": {"x": {"field": "xc", "type": "quantitative"}, "y": {"field": "ratio", "type": "quantitative", "title": "Data/MC"}}}
  ]}
 ], "spacing": 23, "bounds": "flush", "resolve": {"scale": {"color": "independent", "stroke": "independent", "shape": "independent"}, "legend": {"color": "independent", "stroke": "independent", "shape": "independent"}}}
], "spacing": 24, "resolve": {"scale": {"color": "independent", "stroke": "independent", "shape": "independent"}, "legend": {"color": "independent", "stroke": "independent", "shape": "independent"}}},
{"vconcat": [
{"hconcat": [
 {"vconcat": [
  {"width": 487, "height": 338, "data": {"name": "c"}, "layer": [
   {"transform": [{"fold": ["beamoff","incryo","outcryo"], "as": ["comp","v"]}, {"stack": "v", "groupby": ["x0"], "sort": [{"field": "comp", "order": "ascending"}], "as": ["v0","v1"]}],
    "mark": {"type": "rect", "strokeWidth": 0.8},
    "encoding": {
     "x": {"field": "x0", "type": "quantitative", "scale": {"domain": [-1,1], "nice": false, "zero": false}, "axis": {"values": [-1,-0.75,-0.5,-0.25,0,0.25,0.5,0.75,1], "labels": false, "title": null}},
     "x2": {"field": "x1"},
     "y": {"field": "v1", "type": "quantitative", "title": "Events", "scale": {"domain": [0,2100], "nice": false}, "axis": {"values": [0,250,500,750,1000,1250,1500,1750,2000], "format": "d", "labelOverlap": false}},
     "y2": {"field": "v0"},
     "color": {"field": "comp", "type": "nominal", "scale": {"domain": ["outcryo","incryo","beamoff","unc","kdar","kdif","blank","data"], "range": ["#6495ed","#0052cc","#33cc33","#a6a6a6","#ffffff","#ffffff","rgba(0,0,0,0)","#000000"]}},
     "stroke": {"condition": [{"test": "datum.comp == 'beamoff'", "value": "#33cc33"}, {"test": "datum.comp == 'incryo'", "value": "#0052cc"}], "value": "#6495ed"}
    }},
   {"mark": {"type": "rect", "color": "#808080", "opacity": 0.5}, "encoding": {"x": {"field": "x0", "type": "quantitative"}, "x2": {"field": "x1"}, "y": {"field": "unclo", "type": "quantitative", "title": "Events"}, "y2": {"field": "unchi"}}},
   {"transform": [{"fold": ["beamoff","incryo","outcryo"], "as": ["comp","v"]}, {"stack": "v", "groupby": ["x0"], "sort": [{"field": "comp", "order": "ascending"}], "as": ["v0","v1"]}, {"fold": ["x0","x1"], "as": ["edge","xe"]}],
    "mark": {"type": "line", "color": "#1a1a1a", "strokeWidth": 1.6},
    "encoding": {"x": {"field": "xe", "type": "quantitative"}, "y": {"field": "v1", "type": "quantitative", "title": "Events"}, "detail": {"field": "comp"}, "order": [{"field": "xe", "type": "quantitative"}, {"field": "edge", "type": "ordinal", "sort": "descending"}]}},
   {"transform": [{"fold": ["x0","x1"], "as": ["edge","xe"]}], "mark": {"type": "line", "color": "#ffd700", "strokeWidth": 2.6},
    "encoding": {"x": {"field": "xe", "type": "quantitative"}, "y": {"field": "kdar", "type": "quantitative", "title": "Events"}, "order": [{"field": "xe", "type": "quantitative"}, {"field": "edge", "type": "ordinal", "sort": "descending"}]}},
   {"transform": [{"fold": ["x0","x1"], "as": ["edge","xe"]}], "mark": {"type": "line", "color": "#ff0000", "strokeWidth": 2.6},
    "encoding": {"x": {"field": "xe", "type": "quantitative"}, "y": {"field": "kdif", "type": "quantitative", "title": "Events"}, "order": [{"field": "xe", "type": "quantitative"}, {"field": "edge", "type": "ordinal", "sort": "descending"}]}},
   {"mark": {"type": "errorbar", "ticks": {"size": 7}, "color": "#000"}, "encoding": {"x": {"field": "xc", "type": "quantitative"}, "y": {"field": "data", "type": "quantitative", "title": "Events"}, "yError": {"field": "err"}}},
   {"mark": {"type": "circle", "size": 14, "color": "#000", "opacity": 1}, "encoding": {"x": {"field": "xc", "type": "quantitative"}, "y": {"field": "data", "type": "quantitative", "title": "Events"}}},
   {"data": {"values": [{}]}, "mark": {"type": "text", "font": "Liberation Serif", "fontSize": 26, "color": "#222"}, "encoding": {"x": {"datum": -0.67}, "y": {"datum": 1130}, "text": {"value": "(c)"}}},
   {"data": {"values": []}, "mark": {"type": "point", "filled": true, "opacity": 1},
    "encoding": {
     "color": {"field": "comp", "type": "nominal", "scale": {"domain": ["outcryo","incryo","beamoff","unc","kdar","kdif","blank","data"], "range": ["#6495ed","#0052cc","#33cc33","#a6a6a6","#ffffff","#ffffff","rgba(0,0,0,0)","#000000"]},
      "legend": {"title": "MicroBooNE Data 5.01 × 10²⁰ POT", "orient": "top-right", "labelExpr": "({'outcryo':'Out-Cryo ν (461.7)','incryo':'In-Cryo ν (8739.9)','beamoff':'Beam-Off (5149.5)','unc':'Total uncertainty','kdar':['150 MeV scalar S KDAR','θ = 2.9 × 10⁻³(1850.2)'],'kdif':['150 MeV scalar S KDIF','θ = 2.9 × 10⁻³(2135.3)'],'data':'Run 3 NuMI Data (13472)','blank':''})[datum.value]"}},
     "stroke": {"field": "comp", "type": "nominal", "scale": {"domain": ["outcryo","incryo","beamoff","unc","kdar","kdif","blank","data"], "range": ["#000000","#000000","#000000","rgba(0,0,0,0)","#ffd700","#ff0000","rgba(0,0,0,0)","#000000"]}, "legend": {"title": "MicroBooNE Data 5.01 × 10²⁰ POT", "orient": "top-right"}},
     "shape": {"field": "comp", "type": "nominal", "scale": {"domain": ["outcryo","incryo","beamoff","unc","kdar","kdif","blank","data"], "range": ["M-1.75,-0.7H1.75V0.7H-1.75Z","M-1.75,-0.7H1.75V0.7H-1.75Z","M-1.75,-0.7H1.75V0.7H-1.75Z","M-1.75,-0.7H1.75V0.7H-1.75Z","M-1.75,-0.7H1.75V0.7H-1.75Z","M-1.75,-0.7H1.75V0.7H-1.75Z","M-1.75,-0.7H1.75V0.7H-1.75Z","M0,-0.85V0.85M-0.35,-0.85H0.35M-0.35,0.85H0.35"]}, "legend": {"title": "MicroBooNE Data 5.01 × 10²⁰ POT", "orient": "top-right"}}
    }}
  ]},
  {"width": 487, "height": 112, "data": {"name": "c"}, "layer": [
   {"mark": {"type": "rect", "color": "#bfbfbf"}, "encoding": {"x": {"field": "x0", "type": "quantitative", "scale": {"domain": [-1,1], "nice": false, "zero": false}, "axis": {"values": [-1,-0.75,-0.5,-0.25,0,0.25,0.5,0.75,1], "labels": false, "title": null}}, "x2": {"field": "x1"}, "y": {"field": "bandlo", "type": "quantitative", "title": "Data/MC", "scale": {"domain": [0.6,1.4], "nice": false, "zero": false}, "axis": {"values": [0.6,0.8,1,1.2,1.4], "format": ".1f", "labelOverlap": false}}, "y2": {"field": "bandhi"}}},
   {"data": {"values": [{}]}, "mark": {"type": "rule", "color": "#000", "strokeWidth": 1.5}, "encoding": {"y": {"datum": 1, "title": "Data/MC"}}},
   {"mark": {"type": "errorbar", "ticks": {"size": 6}, "color": "#000", "clip": true}, "encoding": {"x": {"field": "xc", "type": "quantitative"}, "y": {"field": "ratio", "type": "quantitative", "title": "Data/MC"}, "yError": {"field": "rerr"}}},
   {"mark": {"type": "circle", "size": 12, "color": "#000", "opacity": 1, "clip": true}, "encoding": {"x": {"field": "xc", "type": "quantitative"}, "y": {"field": "ratio", "type": "quantitative", "title": "Data/MC"}}}
  ]}
 ], "spacing": 23, "bounds": "flush", "resolve": {"scale": {"color": "independent", "stroke": "independent", "shape": "independent"}, "legend": {"color": "independent", "stroke": "independent", "shape": "independent"}}},
 {"vconcat": [
  {"width": 498, "height": 338, "data": {"name": "d"}, "layer": [
   {"transform": [{"fold": ["beamoff","incryo","outcryo"], "as": ["comp","v"]}, {"stack": "v", "groupby": ["x0"], "sort": [{"field": "comp", "order": "ascending"}], "as": ["v0","v1"]}],
    "mark": {"type": "rect", "strokeWidth": 0.8},
    "encoding": {
     "x": {"field": "x0", "type": "quantitative", "scale": {"domain": [-1,1], "nice": false, "zero": false}, "axis": {"values": [-1,-0.75,-0.5,-0.25,0,0.25,0.5,0.75,1], "labels": false, "title": null}},
     "x2": {"field": "x1"},
     "y": {"field": "v1", "type": "quantitative", "title": "Events", "scale": {"domain": [0,900], "nice": false}, "axis": {"values": [0,100,200,300,400,500,600,700,800,900], "format": "d", "labelOverlap": false}},
     "y2": {"field": "v0"},
     "color": {"field": "comp", "type": "nominal", "scale": {"domain": ["outcryo","incryo","beamoff","unc","kdar","kdif","blank","data"], "range": ["#6495ed","#0052cc","#33cc33","#a6a6a6","#ffffff","#ffffff","rgba(0,0,0,0)","#000000"]}},
     "stroke": {"condition": [{"test": "datum.comp == 'beamoff'", "value": "#33cc33"}, {"test": "datum.comp == 'incryo'", "value": "#0052cc"}], "value": "#6495ed"}
    }},
   {"mark": {"type": "rect", "color": "#808080", "opacity": 0.5}, "encoding": {"x": {"field": "x0", "type": "quantitative"}, "x2": {"field": "x1"}, "y": {"field": "unclo", "type": "quantitative", "title": "Events"}, "y2": {"field": "unchi"}}},
   {"transform": [{"fold": ["beamoff","incryo","outcryo"], "as": ["comp","v"]}, {"stack": "v", "groupby": ["x0"], "sort": [{"field": "comp", "order": "ascending"}], "as": ["v0","v1"]}, {"fold": ["x0","x1"], "as": ["edge","xe"]}],
    "mark": {"type": "line", "color": "#1a1a1a", "strokeWidth": 1.6},
    "encoding": {"x": {"field": "xe", "type": "quantitative"}, "y": {"field": "v1", "type": "quantitative", "title": "Events"}, "detail": {"field": "comp"}, "order": [{"field": "xe", "type": "quantitative"}, {"field": "edge", "type": "ordinal", "sort": "descending"}]}},
   {"transform": [{"fold": ["x0","x1"], "as": ["edge","xe"]}], "mark": {"type": "line", "color": "#ffd700", "strokeWidth": 2.6},
    "encoding": {"x": {"field": "xe", "type": "quantitative"}, "y": {"field": "kdar", "type": "quantitative", "title": "Events"}, "order": [{"field": "xe", "type": "quantitative"}, {"field": "edge", "type": "ordinal", "sort": "descending"}]}},
   {"transform": [{"fold": ["x0","x1"], "as": ["edge","xe"]}], "mark": {"type": "line", "color": "#ff0000", "strokeWidth": 2.6},
    "encoding": {"x": {"field": "xe", "type": "quantitative"}, "y": {"field": "kdif", "type": "quantitative", "title": "Events"}, "order": [{"field": "xe", "type": "quantitative"}, {"field": "edge", "type": "ordinal", "sort": "descending"}]}},
   {"mark": {"type": "errorbar", "ticks": {"size": 7}, "color": "#000"}, "encoding": {"x": {"field": "xc", "type": "quantitative"}, "y": {"field": "data", "type": "quantitative", "title": "Events"}, "yError": {"field": "err"}}},
   {"mark": {"type": "circle", "size": 14, "color": "#000", "opacity": 1}, "encoding": {"x": {"field": "xc", "type": "quantitative"}, "y": {"field": "data", "type": "quantitative", "title": "Events"}}},
   {"data": {"values": [{}]}, "mark": {"type": "text", "font": "Liberation Serif", "fontSize": 26, "color": "#222"}, "encoding": {"x": {"datum": -0.63}, "y": {"datum": 484}, "text": {"value": "(d)"}}},
   {"data": {"values": []}, "mark": {"type": "point", "filled": true, "opacity": 1},
    "encoding": {
     "color": {"field": "comp", "type": "nominal", "scale": {"domain": ["outcryo","incryo","beamoff","unc","kdar","kdif","blank","data"], "range": ["#6495ed","#0052cc","#33cc33","#a6a6a6","#ffffff","#ffffff","rgba(0,0,0,0)","#000000"]},
      "legend": {"title": "MicroBooNE Data 5.01 × 10²⁰ POT", "orient": "top-right", "labelExpr": "({'outcryo':'Out-Cryo ν (63.6)','incryo':'In-Cryo ν (3563.3)','beamoff':'Beam-Off (758.1)','unc':'Total uncertainty','kdar':['150 MeV scalar S KDAR','θ = 2.9 × 10⁻³(1245.4)'],'kdif':['150 MeV scalar S KDIF','θ = 2.9 × 10⁻³(1234.3)'],'data':'Run 3 NuMI Data (3863)','blank':''})[datum.value]"}},
     "stroke": {"field": "comp", "type": "nominal", "scale": {"domain": ["outcryo","incryo","beamoff","unc","kdar","kdif","blank","data"], "range": ["#000000","#000000","#000000","rgba(0,0,0,0)","#ffd700","#ff0000","rgba(0,0,0,0)","#000000"]}, "legend": {"title": "MicroBooNE Data 5.01 × 10²⁰ POT", "orient": "top-right"}},
     "shape": {"field": "comp", "type": "nominal", "scale": {"domain": ["outcryo","incryo","beamoff","unc","kdar","kdif","blank","data"], "range": ["M-1.75,-0.7H1.75V0.7H-1.75Z","M-1.75,-0.7H1.75V0.7H-1.75Z","M-1.75,-0.7H1.75V0.7H-1.75Z","M-1.75,-0.7H1.75V0.7H-1.75Z","M-1.75,-0.7H1.75V0.7H-1.75Z","M-1.75,-0.7H1.75V0.7H-1.75Z","M-1.75,-0.7H1.75V0.7H-1.75Z","M0,-0.85V0.85M-0.35,-0.85H0.35M-0.35,0.85H0.35"]}, "legend": {"title": "MicroBooNE Data 5.01 × 10²⁰ POT", "orient": "top-right"}}
    }}
  ]},
  {"width": 498, "height": 112, "data": {"name": "d"}, "layer": [
   {"mark": {"type": "rect", "color": "#bfbfbf"}, "encoding": {"x": {"field": "x0", "type": "quantitative", "scale": {"domain": [-1,1], "nice": false, "zero": false}, "axis": {"values": [-1,-0.75,-0.5,-0.25,0,0.25,0.5,0.75,1], "labels": false, "title": null}}, "x2": {"field": "x1"}, "y": {"field": "bandlo", "type": "quantitative", "title": "Data/MC", "scale": {"domain": [0.6,1.4], "nice": false, "zero": false}, "axis": {"values": [0.6,0.8,1,1.2,1.4], "format": ".1f", "labelOverlap": false}}, "y2": {"field": "bandhi"}}},
   {"data": {"values": [{}]}, "mark": {"type": "rule", "color": "#000", "strokeWidth": 1.5}, "encoding": {"y": {"datum": 1, "title": "Data/MC"}}},
   {"mark": {"type": "errorbar", "ticks": {"size": 6}, "color": "#000", "clip": true}, "encoding": {"x": {"field": "xc", "type": "quantitative"}, "y": {"field": "ratio", "type": "quantitative", "title": "Data/MC"}, "yError": {"field": "rerr"}}},
   {"mark": {"type": "circle", "size": 12, "color": "#000", "opacity": 1, "clip": true}, "encoding": {"x": {"field": "xc", "type": "quantitative"}, "y": {"field": "ratio", "type": "quantitative", "title": "Data/MC"}}}
  ]}
 ], "spacing": 23, "bounds": "flush", "resolve": {"scale": {"color": "independent", "stroke": "independent", "shape": "independent"}, "legend": {"color": "independent", "stroke": "independent", "shape": "independent"}}}
], "spacing": 24, "resolve": {"scale": {"color": "independent", "stroke": "independent", "shape": "independent"}, "legend": {"color": "independent", "stroke": "independent", "shape": "independent"}}},
{"hconcat": [
 {"vconcat": [
  {"width": 487, "height": 338, "data": {"name": "e"}, "layer": [
   {"transform": [{"fold": ["beamoff","incryo","outcryo"], "as": ["comp","v"]}, {"stack": "v", "groupby": ["x0"], "sort": [{"field": "comp", "order": "ascending"}], "as": ["v0","v1"]}],
    "mark": {"type": "rect", "strokeWidth": 0.8},
    "encoding": {
     "x": {"field": "x0", "type": "quantitative", "scale": {"domain": [-1,1], "nice": false, "zero": false}, "axis": {"values": [-1,-0.75,-0.5,-0.25,0,0.25,0.5,0.75,1], "labels": false, "title": null}},
     "x2": {"field": "x1"},
     "y": {"field": "v1", "type": "quantitative", "title": "Events", "scale": {"domain": [0,1700], "nice": false}, "axis": {"values": [0,200,400,600,800,1000,1200,1400,1600], "format": "d", "labelOverlap": false}},
     "y2": {"field": "v0"},
     "color": {"field": "comp", "type": "nominal", "scale": {"domain": ["outcryo","incryo","beamoff","unc","kdar","kdif","blank","data"], "range": ["#6495ed","#0052cc","#33cc33","#a6a6a6","#ffffff","#ffffff","rgba(0,0,0,0)","#000000"]}},
     "stroke": {"condition": [{"test": "datum.comp == 'beamoff'", "value": "#33cc33"}, {"test": "datum.comp == 'incryo'", "value": "#0052cc"}], "value": "#6495ed"}
    }},
   {"mark": {"type": "rect", "color": "#808080", "opacity": 0.5}, "encoding": {"x": {"field": "x0", "type": "quantitative"}, "x2": {"field": "x1"}, "y": {"field": "unclo", "type": "quantitative", "title": "Events"}, "y2": {"field": "unchi"}}},
   {"transform": [{"fold": ["beamoff","incryo","outcryo"], "as": ["comp","v"]}, {"stack": "v", "groupby": ["x0"], "sort": [{"field": "comp", "order": "ascending"}], "as": ["v0","v1"]}, {"fold": ["x0","x1"], "as": ["edge","xe"]}],
    "mark": {"type": "line", "color": "#1a1a1a", "strokeWidth": 1.6},
    "encoding": {"x": {"field": "xe", "type": "quantitative"}, "y": {"field": "v1", "type": "quantitative", "title": "Events"}, "detail": {"field": "comp"}, "order": [{"field": "xe", "type": "quantitative"}, {"field": "edge", "type": "ordinal", "sort": "descending"}]}},
   {"transform": [{"fold": ["x0","x1"], "as": ["edge","xe"]}], "mark": {"type": "line", "color": "#ffd700", "strokeWidth": 2.6},
    "encoding": {"x": {"field": "xe", "type": "quantitative"}, "y": {"field": "kdar", "type": "quantitative", "title": "Events"}, "order": [{"field": "xe", "type": "quantitative"}, {"field": "edge", "type": "ordinal", "sort": "descending"}]}},
   {"transform": [{"fold": ["x0","x1"], "as": ["edge","xe"]}], "mark": {"type": "line", "color": "#ff0000", "strokeWidth": 2.6},
    "encoding": {"x": {"field": "xe", "type": "quantitative"}, "y": {"field": "kdif", "type": "quantitative", "title": "Events"}, "order": [{"field": "xe", "type": "quantitative"}, {"field": "edge", "type": "ordinal", "sort": "descending"}]}},
   {"mark": {"type": "errorbar", "ticks": {"size": 7}, "color": "#000"}, "encoding": {"x": {"field": "xc", "type": "quantitative"}, "y": {"field": "data", "type": "quantitative", "title": "Events"}, "yError": {"field": "err"}}},
   {"mark": {"type": "circle", "size": 14, "color": "#000", "opacity": 1}, "encoding": {"x": {"field": "xc", "type": "quantitative"}, "y": {"field": "data", "type": "quantitative", "title": "Events"}}},
   {"data": {"values": [{}]}, "mark": {"type": "text", "font": "Liberation Serif", "fontSize": 26, "color": "#222"}, "encoding": {"x": {"datum": -0.665}, "y": {"datum": 908}, "text": {"value": "(e)"}}},
   {"data": {"values": []}, "mark": {"type": "point", "filled": true, "opacity": 1},
    "encoding": {
     "color": {"field": "comp", "type": "nominal", "scale": {"domain": ["outcryo","incryo","beamoff","unc","kdar","kdif","blank","data"], "range": ["#6495ed","#0052cc","#33cc33","#a6a6a6","#ffffff","#ffffff","rgba(0,0,0,0)","#000000"]},
      "legend": {"title": "MicroBooNE Data 5.01 × 10²⁰ POT", "orient": "top-left", "labelExpr": "({'outcryo':'Out-Cryo ν (461.7)','incryo':'In-Cryo ν (8739.9)','beamoff':'Beam-Off (5149.5)','unc':'Total uncertainty','kdar':['150 MeV scalar S KDAR','θ = 2.9 × 10⁻³(1850.2)'],'kdif':['150 MeV scalar S KDIF','θ = 2.9 × 10⁻³(2135.3)'],'data':'Run 3 NuMI Data (13472)','blank':''})[datum.value]"}},
     "stroke": {"field": "comp", "type": "nominal", "scale": {"domain": ["outcryo","incryo","beamoff","unc","kdar","kdif","blank","data"], "range": ["#000000","#000000","#000000","rgba(0,0,0,0)","#ffd700","#ff0000","rgba(0,0,0,0)","#000000"]}, "legend": {"title": "MicroBooNE Data 5.01 × 10²⁰ POT", "orient": "top-left"}},
     "shape": {"field": "comp", "type": "nominal", "scale": {"domain": ["outcryo","incryo","beamoff","unc","kdar","kdif","blank","data"], "range": ["M-1.75,-0.7H1.75V0.7H-1.75Z","M-1.75,-0.7H1.75V0.7H-1.75Z","M-1.75,-0.7H1.75V0.7H-1.75Z","M-1.75,-0.7H1.75V0.7H-1.75Z","M-1.75,-0.7H1.75V0.7H-1.75Z","M-1.75,-0.7H1.75V0.7H-1.75Z","M-1.75,-0.7H1.75V0.7H-1.75Z","M0,-0.85V0.85M-0.35,-0.85H0.35M-0.35,0.85H0.35"]}, "legend": {"title": "MicroBooNE Data 5.01 × 10²⁰ POT", "orient": "top-left"}}
    }}
  ]},
  {"width": 487, "height": 112, "data": {"name": "e"}, "layer": [
   {"mark": {"type": "rect", "color": "#bfbfbf"}, "encoding": {"x": {"field": "x0", "type": "quantitative", "scale": {"domain": [-1,1], "nice": false, "zero": false}, "axis": {"values": [-1,-0.75,-0.5,-0.25,0,0.25,0.5,0.75,1], "format": ".2f", "labelFlush": false, "labelOverlap": false, "title": "Shower p_z fraction, n_shower = 1"}}, "x2": {"field": "x1"}, "y": {"field": "bandlo", "type": "quantitative", "title": "Data/MC", "scale": {"domain": [0.6,1.4], "nice": false, "zero": false}, "axis": {"values": [0.6,0.8,1,1.2,1.4], "format": ".1f", "labelOverlap": false}}, "y2": {"field": "bandhi"}}},
   {"data": {"values": [{}]}, "mark": {"type": "rule", "color": "#000", "strokeWidth": 1.5}, "encoding": {"y": {"datum": 1, "title": "Data/MC"}}},
   {"mark": {"type": "errorbar", "ticks": {"size": 6}, "color": "#000", "clip": true}, "encoding": {"x": {"field": "xc", "type": "quantitative"}, "y": {"field": "ratio", "type": "quantitative", "title": "Data/MC"}, "yError": {"field": "rerr"}}},
   {"mark": {"type": "circle", "size": 12, "color": "#000", "opacity": 1, "clip": true}, "encoding": {"x": {"field": "xc", "type": "quantitative"}, "y": {"field": "ratio", "type": "quantitative", "title": "Data/MC"}}}
  ]}
 ], "spacing": 23, "bounds": "flush", "resolve": {"scale": {"color": "independent", "stroke": "independent", "shape": "independent"}, "legend": {"color": "independent", "stroke": "independent", "shape": "independent"}}},
 {"vconcat": [
  {"width": 498, "height": 338, "data": {"name": "f"}, "layer": [
   {"transform": [{"fold": ["beamoff","incryo","outcryo"], "as": ["comp","v"]}, {"stack": "v", "groupby": ["x0"], "sort": [{"field": "comp", "order": "ascending"}], "as": ["v0","v1"]}],
    "mark": {"type": "rect", "strokeWidth": 0.8},
    "encoding": {
     "x": {"field": "x0", "type": "quantitative", "scale": {"domain": [-1,1], "nice": false, "zero": false}, "axis": {"values": [-1,-0.75,-0.5,-0.25,0,0.25,0.5,0.75,1], "labels": false, "title": null}},
     "x2": {"field": "x1"},
     "y": {"field": "v1", "type": "quantitative", "title": "Events", "scale": {"domain": [0,850], "nice": false}, "axis": {"values": [0,100,200,300,400,500,600,700,800], "format": "d", "labelOverlap": false}},
     "y2": {"field": "v0"},
     "color": {"field": "comp", "type": "nominal", "scale": {"domain": ["outcryo","incryo","beamoff","unc","kdar","kdif","blank","data"], "range": ["#6495ed","#0052cc","#33cc33","#a6a6a6","#ffffff","#ffffff","rgba(0,0,0,0)","#000000"]}},
     "stroke": {"condition": [{"test": "datum.comp == 'beamoff'", "value": "#33cc33"}, {"test": "datum.comp == 'incryo'", "value": "#0052cc"}], "value": "#6495ed"}
    }},
   {"mark": {"type": "rect", "color": "#808080", "opacity": 0.5}, "encoding": {"x": {"field": "x0", "type": "quantitative"}, "x2": {"field": "x1"}, "y": {"field": "unclo", "type": "quantitative", "title": "Events"}, "y2": {"field": "unchi"}}},
   {"transform": [{"fold": ["beamoff","incryo","outcryo"], "as": ["comp","v"]}, {"stack": "v", "groupby": ["x0"], "sort": [{"field": "comp", "order": "ascending"}], "as": ["v0","v1"]}, {"fold": ["x0","x1"], "as": ["edge","xe"]}],
    "mark": {"type": "line", "color": "#1a1a1a", "strokeWidth": 1.6},
    "encoding": {"x": {"field": "xe", "type": "quantitative"}, "y": {"field": "v1", "type": "quantitative", "title": "Events"}, "detail": {"field": "comp"}, "order": [{"field": "xe", "type": "quantitative"}, {"field": "edge", "type": "ordinal", "sort": "descending"}]}},
   {"transform": [{"fold": ["x0","x1"], "as": ["edge","xe"]}], "mark": {"type": "line", "color": "#ffd700", "strokeWidth": 2.6},
    "encoding": {"x": {"field": "xe", "type": "quantitative"}, "y": {"field": "kdar", "type": "quantitative", "title": "Events"}, "order": [{"field": "xe", "type": "quantitative"}, {"field": "edge", "type": "ordinal", "sort": "descending"}]}},
   {"transform": [{"fold": ["x0","x1"], "as": ["edge","xe"]}], "mark": {"type": "line", "color": "#ff0000", "strokeWidth": 2.6},
    "encoding": {"x": {"field": "xe", "type": "quantitative"}, "y": {"field": "kdif", "type": "quantitative", "title": "Events"}, "order": [{"field": "xe", "type": "quantitative"}, {"field": "edge", "type": "ordinal", "sort": "descending"}]}},
   {"mark": {"type": "errorbar", "ticks": {"size": 7}, "color": "#000"}, "encoding": {"x": {"field": "xc", "type": "quantitative"}, "y": {"field": "data", "type": "quantitative", "title": "Events"}, "yError": {"field": "err"}}},
   {"mark": {"type": "circle", "size": 14, "color": "#000", "opacity": 1}, "encoding": {"x": {"field": "xc", "type": "quantitative"}, "y": {"field": "data", "type": "quantitative", "title": "Events"}}},
   {"data": {"values": [{}]}, "mark": {"type": "text", "font": "Liberation Serif", "fontSize": 26, "color": "#222"}, "encoding": {"x": {"datum": -0.65}, "y": {"datum": 454}, "text": {"value": "(f)"}}},
   {"data": {"values": []}, "mark": {"type": "point", "filled": true, "opacity": 1},
    "encoding": {
     "color": {"field": "comp", "type": "nominal", "scale": {"domain": ["outcryo","incryo","beamoff","unc","kdar","kdif","blank","data"], "range": ["#6495ed","#0052cc","#33cc33","#a6a6a6","#ffffff","#ffffff","rgba(0,0,0,0)","#000000"]},
      "legend": {"title": "MicroBooNE Data 5.01 × 10²⁰ POT", "orient": "top-left", "labelExpr": "({'outcryo':'Out-Cryo ν (63.6)','incryo':'In-Cryo ν (3563.3)','beamoff':'Beam-Off (758.1)','unc':'Total uncertainty','kdar':['150 MeV scalar S KDAR','θ = 2.9 × 10⁻³(1245.4)'],'kdif':['150 MeV scalar S KDIF','θ = 2.9 × 10⁻³(1234.3)'],'data':'Run 3 NuMI Data (3863)','blank':''})[datum.value]"}},
     "stroke": {"field": "comp", "type": "nominal", "scale": {"domain": ["outcryo","incryo","beamoff","unc","kdar","kdif","blank","data"], "range": ["#000000","#000000","#000000","rgba(0,0,0,0)","#ffd700","#ff0000","rgba(0,0,0,0)","#000000"]}, "legend": {"title": "MicroBooNE Data 5.01 × 10²⁰ POT", "orient": "top-left"}},
     "shape": {"field": "comp", "type": "nominal", "scale": {"domain": ["outcryo","incryo","beamoff","unc","kdar","kdif","blank","data"], "range": ["M-1.75,-0.7H1.75V0.7H-1.75Z","M-1.75,-0.7H1.75V0.7H-1.75Z","M-1.75,-0.7H1.75V0.7H-1.75Z","M-1.75,-0.7H1.75V0.7H-1.75Z","M-1.75,-0.7H1.75V0.7H-1.75Z","M-1.75,-0.7H1.75V0.7H-1.75Z","M-1.75,-0.7H1.75V0.7H-1.75Z","M0,-0.85V0.85M-0.35,-0.85H0.35M-0.35,0.85H0.35"]}, "legend": {"title": "MicroBooNE Data 5.01 × 10²⁰ POT", "orient": "top-left"}}
    }}
  ]},
  {"width": 498, "height": 112, "data": {"name": "f"}, "layer": [
   {"mark": {"type": "rect", "color": "#bfbfbf"}, "encoding": {"x": {"field": "x0", "type": "quantitative", "scale": {"domain": [-1,1], "nice": false, "zero": false}, "axis": {"values": [-1,-0.75,-0.5,-0.25,0,0.25,0.5,0.75,1], "format": ".2f", "labelFlush": false, "labelOverlap": false, "title": "Shower p_z fraction, n_shower = 2"}}, "x2": {"field": "x1"}, "y": {"field": "bandlo", "type": "quantitative", "title": "Data/MC", "scale": {"domain": [0.6,1.4], "nice": false, "zero": false}, "axis": {"values": [0.6,0.8,1,1.2,1.4], "format": ".1f", "labelOverlap": false}}, "y2": {"field": "bandhi"}}},
   {"data": {"values": [{}]}, "mark": {"type": "rule", "color": "#000", "strokeWidth": 1.5}, "encoding": {"y": {"datum": 1, "title": "Data/MC"}}},
   {"mark": {"type": "errorbar", "ticks": {"size": 6}, "color": "#000", "clip": true}, "encoding": {"x": {"field": "xc", "type": "quantitative"}, "y": {"field": "ratio", "type": "quantitative", "title": "Data/MC"}, "yError": {"field": "rerr"}}},
   {"mark": {"type": "circle", "size": 12, "color": "#000", "opacity": 1, "clip": true}, "encoding": {"x": {"field": "xc", "type": "quantitative"}, "y": {"field": "ratio", "type": "quantitative", "title": "Data/MC"}}}
  ]}
 ], "spacing": 23, "bounds": "flush", "resolve": {"scale": {"color": "independent", "stroke": "independent", "shape": "independent"}, "legend": {"color": "independent", "stroke": "independent", "shape": "independent"}}}
], "spacing": 24, "resolve": {"scale": {"color": "independent", "stroke": "independent", "shape": "independent"}, "legend": {"color": "independent", "stroke": "independent", "shape": "independent"}}}
], "spacing": 52, "resolve": {"scale": {"color": "independent", "stroke": "independent", "shape": "independent"}, "legend": {"color": "independent", "stroke": "independent", "shape": "independent"}}}
]
}
